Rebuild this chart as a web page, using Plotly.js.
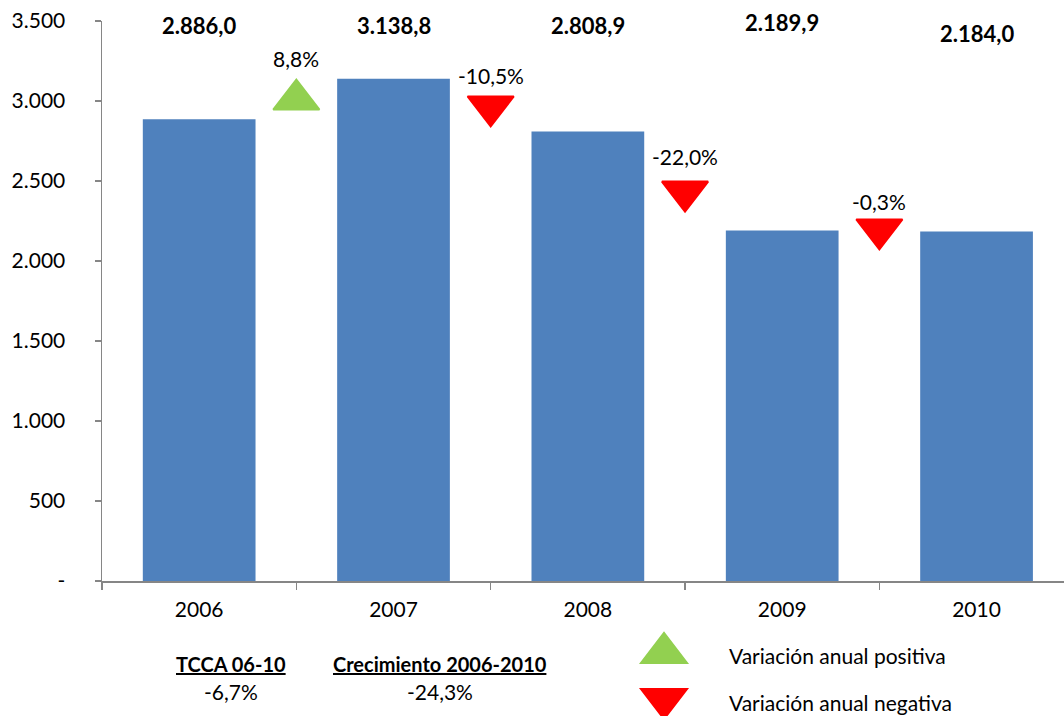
<!DOCTYPE html>
<html>
<head>
<meta charset="utf-8">
<script src="https://cdn.plot.ly/plotly-3.0.1.min.js"></script>
<style>
    html, body { margin: 0; padding: 0; background: #fff; }
    #graph { width: 1064px; height: 716px; }
</style>
</head>
<body>
<div id="graph"></div>
<script>
const years = ['2006', '2007', '2008', '2009', '2010'];
const values = [2886.0, 3138.8, 2808.9, 2189.9, 2184.0];
const valueLabels = ['2.886,0', '3.138,8', '2.808,9', '2.189,9', '2.184,0'];

// yearly change between consecutive bars
const changeLabels = ['8,8%', '-10,5%', '-22,0%', '-0,3%'];
const changeIsUp = [true, false, false, false];
const changeLevels = [3009, 2966, 2434, 2197];

const yTickValues = [0, 500, 1000, 1500, 2000, 2500, 3000, 3500];
const yTickLabels = ['-', '500', '1.000', '1.500', '2.000', '2.500', '3.000', '3.500'];

const summaryTitles = ['TCCA 06-10', 'Crecimiento 2006-2010'];
const summaryValues = ['-6,7%', '-24,3%'];
const legendLabels = ['Variación anual positiva', 'Variación anual negativa'];

const BLUE = '#4F81BD';
const GREEN = '#92D050';
const RED = '#FF0000';
const AXIS = '#868686';
const FONT = 'Lato, "DejaVu Sans", sans-serif';

// page layout in pixels
const M = {l: 102, r: 0, t: 21, b: 135};
const W = 1064, H = 716;
const plotW = W - M.l - M.r;
const plotH = H - M.t - M.b;
const px = x => (x - M.l) / plotW;
const py = y => (H - M.b - y) / plotH;

const xIdx = years.map((_, i) => i);

const bars = {
    x: xIdx,
    y: values,
    type: 'bar',
    width: 0.58,
    marker: {color: BLUE},
    hoverinfo: 'skip',
};

const triangles = {
    x: changeLabels.map((_, i) => i + 0.5),
    y: changeLevels,
    mode: 'markers',
    type: 'scatter',
    cliponaxis: false,
    marker: {
        symbol: changeIsUp.map(up => up ? 'triangle-up' : 'triangle-down'),
        size: 40,
        color: changeIsUp.map(up => up ? GREEN : RED),
        line: {width: 2, color: changeIsUp.map(up => up ? GREEN : RED)},
    },
    hoverinfo: 'skip',
};

const valueShift = [-4, -4, -4, -1, -12];
const changeShift = [41, 31, 35, 28];

let annotations = [];

valueLabels.forEach((t, i) => {
    annotations.push({
        x: i, y: 3500, xref: 'x', yref: 'y',
        text: '<b>' + t + '</b>', showarrow: false,
        xanchor: 'center', yanchor: 'middle', yshift: valueShift[i],
        font: {family: FONT, size: 22, color: '#000'},
    });
});

changeLabels.forEach((t, i) => {
    annotations.push({
        x: i + 0.5, y: changeLevels[i], xref: 'x', yref: 'y',
        text: t, showarrow: false,
        xanchor: 'center', yanchor: 'middle', yshift: changeShift[i],
        font: {family: FONT, size: 21, color: '#000'},
    });
});

const summaryX = [231, 440];
summaryTitles.forEach((t, i) => {
    annotations.push({
        x: px(summaryX[i]), y: py(664), xref: 'paper', yref: 'paper',
        text: '<b><u>' + t + '</u></b>', showarrow: false,
        xanchor: 'center', yanchor: 'middle',
        font: {family: FONT, size: 20, color: '#000'},
    });
    annotations.push({
        x: px(summaryX[i]), y: py(691), xref: 'paper', yref: 'paper',
        text: summaryValues[i], showarrow: false,
        xanchor: 'center', yanchor: 'middle',
        font: {family: FONT, size: 21, color: '#000'},
    });
});

const legendY = [655, 702];
legendLabels.forEach((t, i) => {
    annotations.push({
        x: px(727), y: py(legendY[i]), xref: 'paper', yref: 'paper',
        text: t, showarrow: false, xanchor: 'left', yanchor: 'middle',
        font: {family: FONT, size: 21, color: '#000'},
    });
});

function trianglePath(cx, top, bottom, up, halfW) {
    const tip = up ? top : bottom;
    const base = up ? bottom : top;
    return 'M' + px(cx - halfW) + ',' + py(base) +
        ' L' + px(cx + halfW) + ',' + py(base) +
        ' L' + px(cx) + ',' + py(tip) + ' Z';
}

const shapes = [
    {
        type: 'path', xref: 'paper', yref: 'paper',
        path: trianglePath(664, 633, 663, true, 23),
        fillcolor: GREEN, line: {color: GREEN, width: 2},
    },
    {
        type: 'path', xref: 'paper', yref: 'paper',
        path: trianglePath(664, 689, 719, false, 23),
        fillcolor: RED, line: {color: RED, width: 2},
    },
];

const layout = {
    width: W,
    height: H,
    margin: M,
    paper_bgcolor: '#fff',
    plot_bgcolor: '#fff',
    showlegend: false,
    font: {family: FONT, size: 21, color: '#000'},
    xaxis: {
        range: [-0.5, 4.45],
        tickmode: 'array',
        tickvals: xIdx,
        ticktext: years,
        ticks: '',
        ticklabelstandoff: 9,
        showline: true,
        linecolor: AXIS,
        linewidth: 1.5,
        showgrid: false,
        zeroline: false,
        fixedrange: true,
        tickfont: {family: FONT, size: 21, color: '#000'},
        minor: {
            tickmode: 'array',
            tickvals: [-0.5, 0.5, 1.5, 2.5, 3.5, 4.5],
            ticks: 'outside',
            ticklen: 7,
            tickcolor: AXIS,
            tickwidth: 1.5,
            showgrid: false,
        },
    },
    yaxis: {
        range: [0, 3500],
        tickmode: 'array',
        tickvals: yTickValues,
        ticktext: yTickLabels,
        ticks: 'outside',
        ticklen: 6,
        tickcolor: AXIS,
        tickwidth: 1.5,
        ticklabelstandoff: 25,
        showline: true,
        linecolor: AXIS,
        linewidth: 1.5,
        showgrid: false,
        zeroline: false,
        fixedrange: true,
        tickfont: {family: FONT, size: 21, color: '#000'},
    },
    annotations: annotations,
    shapes: shapes,
};

const config = {
    displayModeBar: false,
    staticPlot: true,
};

Plotly.newPlot('graph', [bars, triangles], layout, config);
</script>
</body>
</html>
